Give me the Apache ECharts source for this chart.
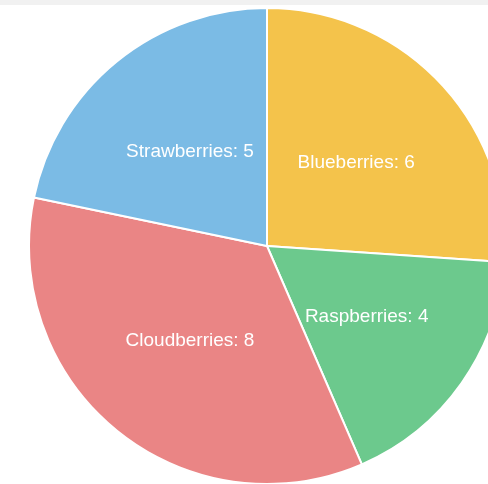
<!DOCTYPE html>
<html>
<head>
<meta charset="utf-8">
<script src="https://cdn.jsdelivr.net/npm/echarts@6/dist/echarts.min.js"></script>
<style>
html,body{margin:0;padding:0;background:#fff;}
#berries{width:488px;height:484px;}
</style>
</head>
<body>
<div id="berries"></div>
<script>
// 数据
var berryNames = ['Blueberries', 'Raspberries', 'Cloudberries', 'Strawberries'];
var berryCounts = [6, 4, 8, 5];
var berryColors = ['#f4c34b', '#6cc98d', '#ea8585', '#7bbbe5'];

var pieData = [];
for (var i = 0; i < berryNames.length; i++) {
    pieData.push({
        name: berryNames[i],
        value: berryCounts[i],
        itemStyle: {color: berryColors[i]}
    });
}

var myChart = echarts.init(document.getElementById('berries'));
var option = {
    animation: false,
    graphic: [{
        type: 'rect',
        shape: {x: 0, y: 0, width: 488, height: 5},
        style: {fill: '#f1f1f1'}
    }],
    series: [{
        type: 'pie',
        center: [267, 246],
        radius: [0, 238],
        startAngle: 90,
        clockwise: true,
        data: pieData,
        itemStyle: {
            borderColor: '#fff',
            borderWidth: 2
        },
        label: {
            position: 'inner',
            formatter: '{b}: {c}',
            color: '#fff',
            fontFamily: 'Liberation Sans',
            fontSize: 19
        },
        labelLine: {show: false},
        emphasis: {disabled: true}
    }]
};
myChart.setOption(option, true);
</script>
</body>
</html>
